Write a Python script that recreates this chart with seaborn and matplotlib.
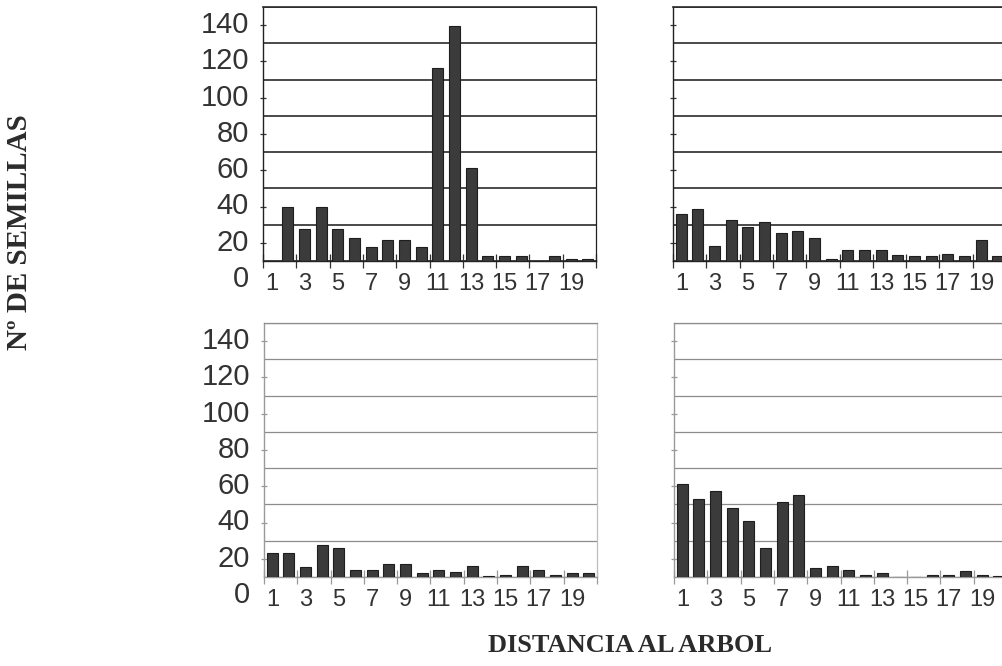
import matplotlib
matplotlib.use("Agg")
import matplotlib.pyplot as plt
import matplotlib.transforms as mtransforms
import seaborn as sns
import pandas as pd
import numpy as np

# ---------------- data ----------------
distances = list(range(1, 21))
y_ticks = [0, 20, 40, 60, 80, 100, 120, 140]
x_labels = ["1", "3", "5", "7", "9", "11", "13", "15", "17", "19"]

top_left = [0, 30, 17.5, 30, 17.5, 12.7, 7.5, 11.6, 11.6, 7.5,
            106.3, 129.3, 51.1, 2.8, 2.8, 2.8, 0, 2.8, 1.3, 1.3]
top_right = [25.8, 28.5, 8.3, 22.6, 18.9, 21.7, 15.3, 16.6, 12.5, 1.1,
             6.1, 6.1, 6.1, 3.3, 2.8, 2.8, 3.9, 2.8, 11.6, 2.8]
bottom_left = [13.4, 13.4, 5.5, 17.5, 15.8, 4.1, 4.1, 7.4, 7.4, 2.2,
               4.1, 2.9, 6.3, 0.4, 0.9, 6.3, 4.1, 0.9, 2.2, 2.2]
bottom_right = [51.4, 43.1, 47.5, 37.9, 30.9, 16.0, 41.1, 45.3, 5.2, 6.1,
                3.9, 0.9, 2.0, 0.2, 0.2, 0.9, 0.9, 3.1, 0.9, 0.4]

y_title = "Nº DE SEMILLAS"
x_title = "DISTANCIA AL ARBOL"

# ---------------- style ----------------
sns.set_style("white")
plt.rcParams["font.family"] = ["Liberation Sans", "DejaVu Sans"]

W, H = 1003, 666
fig = plt.figure(figsize=(W / 100, H / 100), dpi=100)
fig.patch.set_facecolor("white")


def rect(l, r, t, b):
    return [l / W, 1 - b / H, (r - l) / W, (b - t) / H]


panels = [
    (top_left, rect(263, 596, 7, 261), True, "top", True),
    (top_right, rect(673, 1006, 7, 261), False, "top", False),
    (bottom_left, rect(264, 597, 323, 577), True, "bottom", True),
    (bottom_right, rect(674, 1007, 323, 577), False, "bottom", False),
]

label_offset = mtransforms.ScaledTranslation(0, -15 / 100, fig.dpi_scale_trans)

for vals, r, show_labels, row, right_spine in panels:
    ax = fig.add_axes(r)
    df = pd.DataFrame({"dist": [str(d) for d in distances], "n": vals})
    sns.barplot(data=df, x="dist", y="n", ax=ax, color="#3b3b3b",
                saturation=1, width=0.66, edgecolor="#1e1e1e", linewidth=0.8,
                zorder=3)
    ax.set_xlim(-0.5, 19.5)
    ax.set_ylim(0, 140)
    ax.set_xlabel("")
    ax.set_ylabel("")

    if row == "top":
        gcol, glw, scol, tcol = "#2a2a2a", 1.2, "#222222", "#333333"
    else:
        gcol, glw, scol, tcol = "#8c8c8c", 0.9, "#9a9a9a", "#9a9a9a"

    # y axis: gridlines at majors, tick marks at midpoints
    ax.set_yticks(y_ticks)
    ax.set_yticks(np.arange(10, 140, 20), minor=True)
    if show_labels:
        ax.set_yticklabels([str(v) for v in y_ticks])
    else:
        ax.set_yticklabels([])
    ax.yaxis.grid(True, which="major", color=gcol, linewidth=glw, zorder=0)
    ax.xaxis.grid(False)
    ax.set_axisbelow(True)
    ax.tick_params(axis="y", which="major", length=0, pad=10,
                   labelsize=21, labelcolor="#333333")
    ax.tick_params(axis="y", which="minor", direction="inout", length=5,
                   width=0.9, color=tcol, left=True)
    for lab in ax.get_yticklabels():
        lab.set_transform(lab.get_transform() + label_offset)

    # x axis: labels at odd categories, tick marks at boundaries
    ax.set_xticks(np.arange(0, 20, 2))
    ax.set_xticklabels(x_labels)
    ax.set_xticks(np.arange(-0.5, 20, 2), minor=True)
    ax.tick_params(axis="x", which="major", length=0, pad=9,
                   labelsize=17, labelcolor="#333333")
    ax.tick_params(axis="x", which="minor", direction="inout", length=10,
                   width=0.9, color=tcol, bottom=True)

    for side in ["left", "bottom"]:
        ax.spines[side].set_visible(True)
        ax.spines[side].set_color(scol)
        ax.spines[side].set_linewidth(1.0)
    # top border doubles as the 140 gridline
    ax.spines["top"].set_visible(True)
    ax.spines["top"].set_color(gcol)
    ax.spines["top"].set_linewidth(glw)
    ax.spines["right"].set_visible(right_spine)
    ax.spines["right"].set_color(scol if row == "top" else "#bdbdbd")
    ax.spines["right"].set_linewidth(0.9)
    ax.set_facecolor("none")

fig.text(20 / W, 1 - 232 / H, y_title, rotation=90, ha="center", va="center",
         family=["Liberation Serif", "DejaVu Serif"], fontweight="bold",
         fontsize=21, color="#2b2b2b")
fig.text(630 / W, 1 - 646 / H, x_title, ha="center", va="center",
         family=["Liberation Serif", "DejaVu Serif"], fontweight="bold",
         fontsize=19, color="#2b2b2b")

fig.savefig("out.png", dpi=100, facecolor="white")
